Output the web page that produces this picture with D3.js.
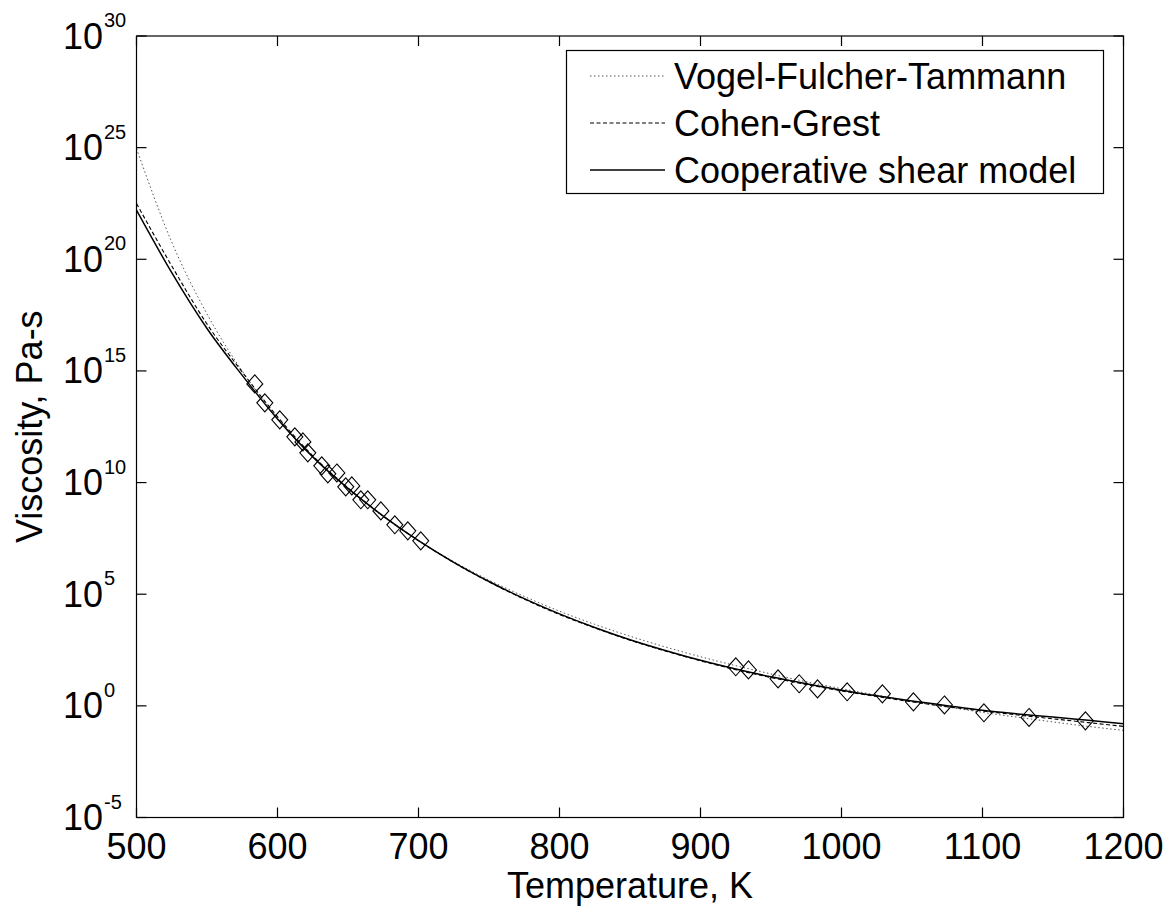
<!DOCTYPE html>
<html>
<head>
<meta charset="utf-8">
<script src="https://cdn.jsdelivr.net/npm/d3@7"></script>
<style>
  body { margin: 0; background: #fff; }
  text { font-family: "Liberation Sans", Arial, sans-serif; fill: #000; }
</style>
</head>
<body>
<div id="chart"></div>
<script>
var curveT = [500, 525, 550, 575, 600, 625, 650, 675, 700, 725, 750, 775, 800, 825, 850,
              875, 900, 925, 950, 975, 1000, 1025, 1050, 1075, 1100, 1125, 1150, 1175, 1200]
// log10 of viscosity (Pa-s) for each model
var vftLog = [24.96, 20.77, 17.55, 14.99, 12.90, 11.17, 9.72, 8.47, 7.40, 6.46, 5.63, 4.90, 4.24, 3.65, 3.12,
              2.64, 2.20, 1.80, 1.43, 1.08, 0.77, 0.48, 0.20, -0.05, -0.29, -0.51, -0.72, -0.92, -1.10]
var cgLog  = [22.5, 19.7, 17.1, 14.95, 12.95, 11.2, 9.76, 8.5, 7.4, 6.42, 5.55, 4.78, 4.09, 3.49, 2.94,
              2.46, 2.02, 1.62, 1.27, 0.96, 0.67, 0.42, 0.18, -0.04, -0.23, -0.41, -0.58, -0.75, -0.92]
var csmLog = [22.2, 19.4, 16.9, 14.8, 12.85, 11.15, 9.74, 8.5, 7.4, 6.43, 5.57, 4.8, 4.12, 3.51, 2.96,
              2.48, 2.04, 1.65, 1.3, 0.99, 0.7, 0.45, 0.22, 0.01, -0.2, -0.36, -0.5, -0.65, -0.8]

// measured points
var lowT   = [583.9, 591, 601.6, 612.3, 618, 621.5, 631.4, 635.7, 642.1, 648.4, 652.7, 659.1, 664, 673.3, 683.2, 692.4, 701.6]
var lowLog = [14.42, 13.57, 12.81, 12.05, 11.82, 11.33, 10.75, 10.39, 10.43, 9.81, 9.85, 9.23, 9.23, 8.73, 8.11, 7.84, 7.39]
var highT   = [925, 934, 955, 970, 983, 1004, 1029, 1051, 1073, 1101, 1133, 1173]
var highLog = [1.75, 1.61, 1.21, 0.99, 0.76, 0.63, 0.54, 0.18, 0.04, -0.31, -0.52, -0.67]

var xTicks = [500, 600, 700, 800, 900, 1000, 1100, 1200]
var yTickExp = [-5, 0, 5, 10, 15, 20, 25, 30]

var seriesNames = ["Vogel-Fulcher-Tammann", "Cohen-Grest", "Cooperative shear model"]

var W = 1175, H = 909
var margin = {top: 36, right: 51.5, bottom: 91.5, left: 136.5}
var width = W - margin.left - margin.right,
    height = H - margin.top - margin.bottom

var svg = d3.select("#chart").append("svg")
    .attr("width", W)
    .attr("height", H)

var chart = svg.append("g")
    .attr("transform", "translate(" + margin.left + "," + margin.top + ")")

var x = d3.scaleLinear().domain([500, 1200]).range([0, width])
var y = d3.scaleLog().domain([1e-5, 1e30]).range([height, 0])

chart.append("clipPath").attr("id", "plotclip")
  .append("rect").attr("width", width).attr("height", height)

var styles = [
  {stroke: "#555", width: 1, dash: "1.5,2.5"},
  {stroke: "#000", width: 1.1, dash: "4,2.5"},
  {stroke: "#000", width: 1.5, dash: null}
]
var curves = [vftLog, cgLog, csmLog]

var line = d3.line()
    .x(function(d){ return x(d.t) })
    .y(function(d){ return y(Math.pow(10, d.v)) })
    .curve(d3.curveMonotoneX)

curves.forEach(function(vals, i) {
  var pts = curveT.map(function(t, j){ return {t: t, v: vals[j]} })
  chart.append("path")
    .datum(pts)
    .attr("clip-path", "url(#plotclip)")
    .attr("fill", "none")
    .attr("stroke", styles[i].stroke)
    .attr("stroke-width", styles[i].width)
    .attr("stroke-dasharray", styles[i].dash)
    .attr("d", line)
})

// open diamond markers
var diamond = {
  draw: function(ctx, size) {
    var w = 8, h = 9
    ctx.moveTo(0, -h); ctx.lineTo(w, 0); ctx.lineTo(0, h); ctx.lineTo(-w, 0); ctx.closePath()
  }
}
var points = lowT.map(function(t, i){ return {t: t, v: lowLog[i]} })
  .concat(highT.map(function(t, i){ return {t: t, v: highLog[i]} }))

chart.selectAll(".pt")
  .data(points)
  .enter()
  .append("path")
  .attr("class", "pt")
  .attr("transform", function(d){ return "translate(" + x(d.t) + "," + y(Math.pow(10, d.v)) + ")" })
  .attr("d", d3.symbol().type(diamond))
  .attr("fill", "none")
  .attr("stroke", "#000")
  .attr("stroke-width", 1.1)

// box + inward ticks on all four sides
var tickLen = 10
var ax = chart.append("g").attr("stroke", "#000").attr("stroke-width", 1.2)
ax.append("rect").attr("width", width).attr("height", height).attr("fill", "none")
xTicks.forEach(function(t) {
  ax.append("line").attr("x1", x(t)).attr("x2", x(t)).attr("y1", height).attr("y2", height - tickLen)
  ax.append("line").attr("x1", x(t)).attr("x2", x(t)).attr("y1", 0).attr("y2", tickLen)
})
yTickExp.forEach(function(e) {
  var yy = y(Math.pow(10, e))
  ax.append("line").attr("x1", 0).attr("x2", tickLen).attr("y1", yy).attr("y2", yy)
  ax.append("line").attr("x1", width).attr("x2", width - tickLen).attr("y1", yy).attr("y2", yy)
})

// x tick labels
chart.selectAll(".xlab")
  .data(xTicks)
  .enter()
  .append("text")
  .attr("class", "xlab")
  .attr("x", function(d){ return x(d) })
  .attr("y", height + 41)
  .attr("text-anchor", "middle")
  .style("font-size", "36px")
  .text(function(d){ return d })

// y tick labels: 10 with superscript exponent
yTickExp.forEach(function(e) {
  var yy = y(Math.pow(10, e))
  chart.append("text")
    .attr("x", -33.5)
    .attr("y", yy + 12.5)
    .attr("text-anchor", "end")
    .style("font-size", "36px")
    .text("10")
  chart.append("text")
    .attr("x", -32.5)
    .attr("y", yy - 9)
    .style("font-size", "20px")
    .text(e)
})

// axis titles
svg.append("text")
  .attr("x", margin.left + width / 2)
  .attr("y", 898)
  .attr("text-anchor", "middle")
  .style("font-size", "36px")
  .text("Temperature, K")

svg.append("text")
  .attr("transform", "translate(42," + (margin.top + height / 2) + ") rotate(-90)")
  .attr("text-anchor", "middle")
  .style("font-size", "36px")
  .text("Viscosity, Pa-s")

// legend
var leg = svg.append("g")
leg.append("rect")
  .attr("x", 566.5).attr("y", 50.5)
  .attr("width", 537).attr("height", 143)
  .attr("fill", "#fff")
  .attr("stroke", "#000")
  .attr("stroke-width", 1.2)
seriesNames.forEach(function(name, i) {
  var cy = 76 + i * 47
  leg.append("line")
    .attr("x1", 590).attr("x2", 665)
    .attr("y1", cy).attr("y2", cy)
    .attr("stroke", styles[i].stroke)
    .attr("stroke-width", styles[i].width)
    .attr("stroke-dasharray", styles[i].dash)
  leg.append("text")
    .attr("x", 674)
    .attr("y", cy + 13)
    .style("font-size", "36px")
    .text(name)
})
</script>
</body>
</html>
